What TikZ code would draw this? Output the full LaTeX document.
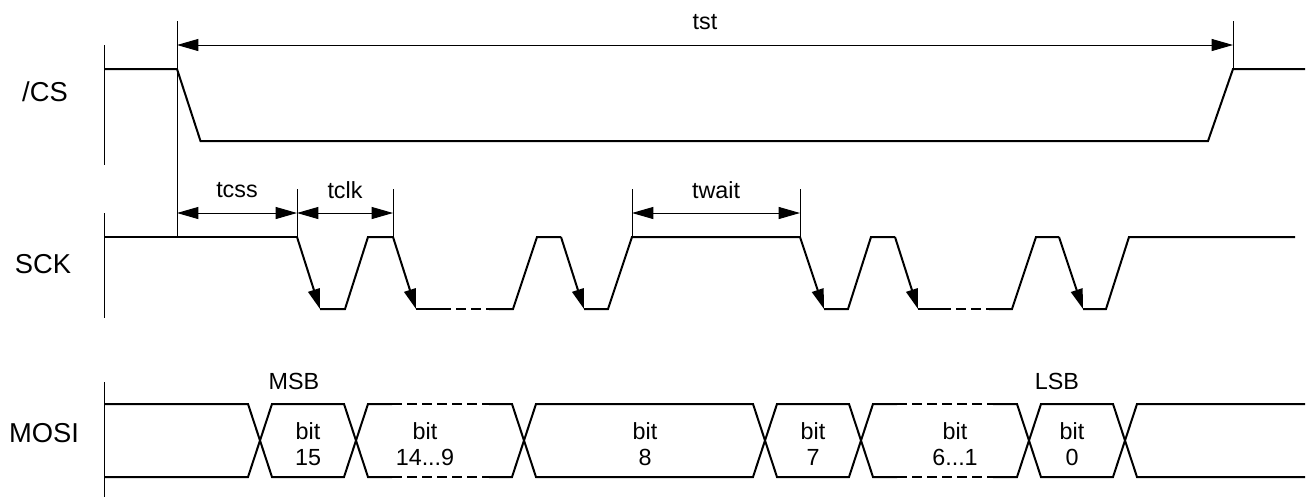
\documentclass[tikz,border=0pt]{standalone}
\usepackage{fontspec}
\setmainfont{Liberation Sans}
\usetikzlibrary{arrows.meta}
\begin{document}
\begin{tikzpicture}[x=0.75pt,y=-0.75pt,
  wave/.style={line width=1.5pt, line join=miter},
  thinline/.style={line width=0.75pt},
  tipend/.style={wave,-{Triangle[length=15pt,width=9pt]}},
  dim/.style={thinline,{Triangle[length=16pt,width=9pt]}-{Triangle[length=16pt,width=9pt]}},
  dsh/.style={wave,dash pattern=on 7.5pt off 3.75pt},
  lbl/.style={font=\fontsize{17.5}{19.5}\selectfont, inner sep=0pt},
  rowlbl/.style={font=\fontsize{20.5}{24}\selectfont, inner sep=0pt},
  bitlbl/.style={lbl, align=center},
]
\useasboundingbox (0,0) rectangle (1313,497);

% ---------------- /CS ----------------
\node[rowlbl] (lcs) at (45,92) {/CS};
\draw[thinline] (104,45) -- (104,165);
\draw[wave] (104,69) -- (177,69) -- (200.5,141) -- (1208,141) -- (1233,69) -- (1305,69);
\coordinate (tsta) at (177,45);
\coordinate (tstb) at (1233,45);
\draw[thinline] (177,21) -- (177,237);
\draw[thinline] (1233,21) -- (1233,69);
\draw[dim] (tsta) -- (tstb);
\node[lbl] (tst) at (705,22) {tst};

% ---------------- SCK ----------------
\node[rowlbl] (lsck) at (43,264) {SCK};
\draw[thinline] (104,213) -- (104,318);
\def\H{237}\def\L{309}
\draw[wave] (104,\H) -- (297,\H);
\draw[tipend] (297,\H) -- (320,\L);
\draw[wave] (320,\L) -- (345,\L) -- (368,\H) -- (393,\H);
\draw[tipend] (393,\H) -- (416,\L);
\draw[wave] (416,\L) -- (441,\L);
\draw[dsh] (441,\L) -- (489,\L);
\draw[wave] (489,\L) -- (513,\L) -- (537,\H) -- (561,\H);
\draw[tipend] (561,\H) -- (584,\L);
\draw[wave] (584,\L) -- (608,\L) -- (632,\H) -- (800,\H);
\draw[tipend] (800,\H) -- (824,\L);
\draw[wave] (824,\L) -- (848,\L) -- (871,\H) -- (895,\H);
\draw[tipend] (895,\H) -- (918,\L);
\draw[wave] (918,\L) -- (941,\L);
\draw[dsh] (941,\L) -- (989,\L);
\draw[wave] (989,\L) -- (1012,\L) -- (1036,\H) -- (1059,\H);
\draw[tipend] (1059,\H) -- (1083,\L);
\draw[wave] (1083,\L) -- (1106,\L) -- (1129,\H) -- (1295,\H);

% timing dimensions
\draw[thinline] (297,189) -- (297,237);
\draw[thinline] (393,189) -- (393,237);
\draw[thinline] (632,189) -- (632,237);
\draw[thinline] (800,189) -- (800,237);
\coordinate (tcssa) at (177,213);
\coordinate (tcssb) at (297,213);
\coordinate (tclkb) at (393,213);
\coordinate (twaita) at (632,213);
\coordinate (twaitb) at (800,213);
\draw[dim] (tcssa) -- (tcssb);
\draw[dim] (tcssb) -- (tclkb);
\draw[dim] (twaita) -- (twaitb);
\node[lbl] (tcss) at (237,190) {tcss};
\node[lbl] (tclk) at (345,190) {tclk};
\node[lbl] (twait) at (716,190) {twait};

% ---------------- MOSI ----------------
\node[rowlbl] (lmosi) at (44,433) {MOSI};
\draw[thinline] (104,382) -- (104,497);
\def\T{404}\def\B{477}\def\M{440.5}
% start
\draw[wave] (104,\T) -- (248,\T) -- (260,\M) -- (248,\B) -- (104,\B);
% bit 15
\draw[wave] (260,\M) -- (272,\T) -- (344,\T) -- (356,\M) -- (344,\B) -- (272,\B) -- cycle;
% bit 14...9 (dashed middle)
\draw[wave] (392,\T) -- (368,\T) -- (356,\M) -- (368,\B) -- (392,\B);
\draw[dsh] (392,\T) -- (489,\T);
\draw[dsh] (392,\B) -- (489,\B);
\draw[wave] (489,\T) -- (512,\T) -- (524,\M) -- (512,\B) -- (489,\B);
% bit 8
\draw[wave] (524,\M) -- (536,\T) -- (753,\T) -- (765,\M) -- (753,\B) -- (536,\B) -- cycle;
% bit 7
\draw[wave] (765,\M) -- (777,\T) -- (849,\T) -- (861,\M) -- (849,\B) -- (777,\B) -- cycle;
% bit 6...1 (dashed middle)
\draw[wave] (897,\T) -- (873,\T) -- (861,\M) -- (873,\B) -- (897,\B);
\draw[dsh] (897,\T) -- (993,\T);
\draw[dsh] (897,\B) -- (993,\B);
\draw[wave] (993,\T) -- (1017,\T) -- (1029,\M) -- (1017,\B) -- (993,\B);
% bit 0
\draw[wave] (1029,\M) -- (1041,\T) -- (1113,\T) -- (1125,\M) -- (1113,\B) -- (1041,\B) -- cycle;
% end
\draw[wave] (1305,\T) -- (1137,\T) -- (1125,\M) -- (1137,\B) -- (1305,\B);

\node[lbl] (msb) at (294,381) {MSB};
\node[lbl] (lsb) at (1057,381) {LSB};
\node[bitlbl] (b15) at (308,444) {bit\\15};
\node[bitlbl] (b149) at (425,444) {bit\\14...9};
\node[bitlbl] (b8) at (645,444) {bit\\8};
\node[bitlbl] (b7) at (813,444) {bit\\7};
\node[bitlbl] (b61) at (955,444) {bit\\6...1};
\node[bitlbl] (b0) at (1072,444) {bit\\0};
\end{tikzpicture}
\end{document}
